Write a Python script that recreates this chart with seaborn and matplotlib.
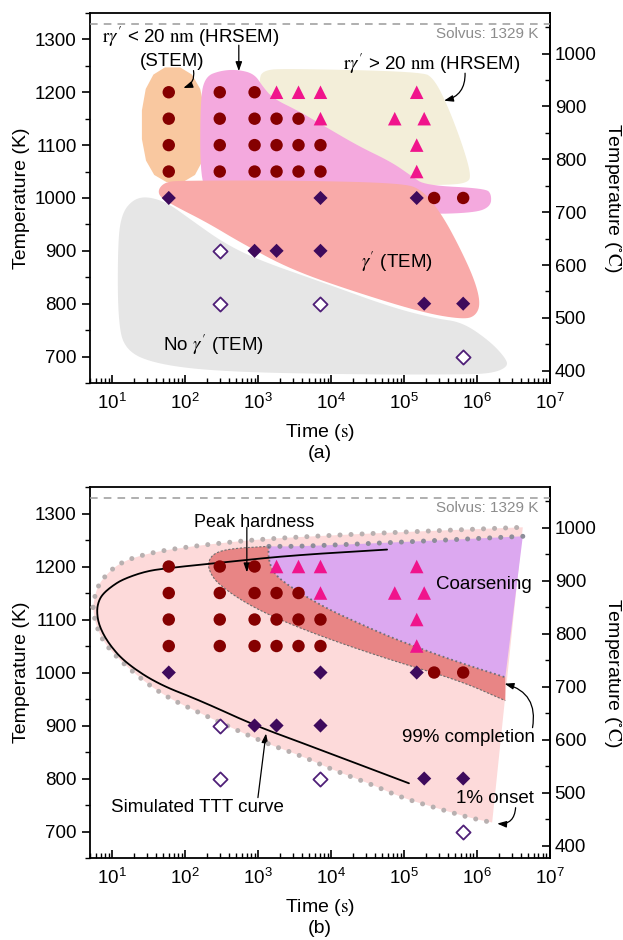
import numpy as np
import matplotlib
matplotlib.use("Agg")
import matplotlib.pyplot as plt
import seaborn as sns
import pandas as pd
from matplotlib.ticker import FixedLocator, LogLocator, MultipleLocator, NullFormatter

# ---- measured points: ageing time (s) and temperature (K) ----
circle_t = [60, 300, 900,
            60, 300, 900, 1800, 3600,
            60, 300, 900, 1800, 3600, 7200,
            60, 300, 900, 1800, 3600, 7200,
            2.6e5, 6.5e5]
circle_T = [1200, 1200, 1200,
            1150, 1150, 1150, 1150, 1150,
            1100, 1100, 1100, 1100, 1100, 1100,
            1050, 1050, 1050, 1050, 1050, 1050,
            1000, 1000]
tri_t = [1800, 3600, 7200, 1.5e5, 7200, 7.5e4, 1.9e5, 1.5e5, 1.5e5]
tri_T = [1200, 1200, 1200, 1200, 1150, 1150, 1150, 1100, 1050]
dia_t = [60, 7200, 1.5e5, 900, 1800, 7200, 1.9e5, 6.5e5]
dia_T = [1000, 1000, 1000, 900, 900, 900, 800, 800]
open_t = [300, 300, 7200, 6.5e5]
open_T = [900, 800, 800, 700]
solvus = 1329

x_ticks = [1e1, 1e2, 1e3, 1e4, 1e5, 1e6, 1e7]
k_ticks = [700, 800, 900, 1000, 1100, 1200, 1300]
c_ticks = [400, 500, 600, 700, 800, 900, 1000]

# ---- region outlines: (log10 time, K) ----
stem_zone = [(1.41, 1030), (1.41, 1247), (2.25, 1247), (2.31, 1030)]
small_zone = [(2.21, 1030), (2.21, 1188), (2.28, 1230), (2.49, 1241), (2.72, 1243),
              (2.95, 1235), (3.07, 1210), (3.21, 1188), (3.55, 1165), (3.91, 1136),
              (4.38, 1098), (4.83, 1068), (5.11, 1041), (5.29, 1024), (6.12, 1018),
              (6.2, 1007), (6.19, 984), (5.98, 972), (5.25, 969), (3.59, 988), (2.35, 1012)]
large_zone = [(3.01, 1226), (3.08, 1241), (3.32, 1245), (5.25, 1239), (5.41, 1226),
              (5.59, 1178), (5.8, 1102), (5.92, 1045), (5.88, 1028), (5.52, 1024),
              (4.28, 1024), (3.01, 1092)]
tem_zone = [(1.63, 1016), (1.73, 1030), (1.94, 1033), (3.59, 1033), (4.97, 1028),
            (5.25, 1016), (5.52, 969), (5.76, 908), (5.97, 845), (6.05, 801),
            (5.99, 778), (5.83, 770), (5.29, 782), (4.38, 820), (3.46, 864),
            (2.77, 915), (2.31, 953), (1.87, 984), (1.66, 1001)]
none_zone = [(1.14, 972), (1.29, 997), (1.48, 1003), (1.76, 991), (2.08, 959),
             (2.53, 915), (3.0, 883), (3.91, 839), (4.83, 793), (5.43, 772),
             (5.8, 765), (6.17, 730), (6.39, 698), (6.43, 681), (6.21, 668),
             (5.76, 666), (4.38, 666), (2.53, 671), (1.62, 685), (1.18, 711),
             (1.08, 769), (1.08, 921)]

onset_top = [(0.74, 1123), (0.78, 1155), (0.88, 1179), (1.11, 1208), (1.52, 1226),
             (2.08, 1238), (2.9, 1250), (3.59, 1256), (4.97, 1265), (6.63, 1274)]
onset_bot = [(0.74, 1123), (0.77, 1094), (0.88, 1057), (1.18, 1013), (1.66, 960),
             (2.21, 923), (3.08, 868), (3.59, 843), (4.05, 815), (4.52, 791),
             (4.97, 764), (5.43, 745), (5.9, 726), (6.21, 717)]
coarse_top = [(3.15, 1238), (3.59, 1238), (4.97, 1246), (6.63, 1257)]
peak_upper = [(3.15, 1238), (3.14, 1217), (3.21, 1187), (3.46, 1160), (3.91, 1123),
              (4.38, 1093), (4.83, 1066), (5.29, 1042), (5.76, 1019), (6.39, 991)]
peak_lower = [(3.15, 1238), (2.63, 1234), (2.39, 1225), (2.31, 1206), (2.35, 1187),
              (2.45, 1168), (2.77, 1136), (3.22, 1104), (3.91, 1066), (4.83, 1023),
              (5.76, 985), (6.39, 947)]
ttt_curve = [(4.77, 1232), (3.46, 1221), (2.53, 1208), (1.76, 1197), (1.46, 1191),
             (1.15, 1176), (1.0, 1163), (0.88, 1149), (0.82, 1136), (0.79, 1117),
             (0.82, 1089), (0.95, 1055), (1.18, 1019), (1.62, 979), (2.21, 947),
             (2.96, 900), (3.59, 868), (5.07, 791)]


def chaikin(pts, n=3, closed=True):
    p = np.asarray(pts, float)
    for _ in range(n):
        a = p if closed else p[:-1]
        b = np.roll(p, -1, axis=0) if closed else p[1:]
        q = np.empty((2 * len(a), 2))
        q[0::2] = 0.75 * a + 0.25 * b
        q[1::2] = 0.25 * a + 0.75 * b
        p = q if closed else np.vstack([p[0], q, p[-1]])
    return p


def blob(ax, pts, color, z, n=3):
    p = chaikin(pts, n)
    ax.fill(10 ** p[:, 0], p[:, 1], color=color, lw=0, zorder=z)


def curve(pts, n=3):
    p = chaikin(pts, n, closed=False)
    return 10 ** p[:, 0], p[:, 1]


sns.set_theme(style="ticks")
plt.rcParams["font.family"] = ["Liberation Sans", "DejaVu Sans"]
plt.rcParams["mathtext.fontset"] = "stix"
plt.rcParams["axes.edgecolor"] = "black"
plt.rcParams["axes.linewidth"] = 1.3
plt.rcParams["text.color"] = "black"
plt.rcParams["axes.labelcolor"] = "black"
plt.rcParams["xtick.color"] = "black"
plt.rcParams["ytick.color"] = "black"

c_circle = "#850000"
c_tri = "#f0148c"
c_dia = "#3e0a5c"
c_open = "#4f1f78"

fig = plt.figure(figsize=(6.23, 9.40), dpi=100)
ax_a = fig.add_axes([0.1445, 0.5926, 0.738, 0.3936])
ax_b = fig.add_axes([0.1445, 0.0872, 0.738, 0.3947])


def markers(ax):
    sns.scatterplot(x=circle_t, y=circle_T, ax=ax, marker="o", s=80,
                    color=c_circle, edgecolor="none", zorder=10)
    sns.scatterplot(x=tri_t, y=tri_T, ax=ax, marker="^", s=95,
                    color=c_tri, edgecolor="none", zorder=10)
    sns.scatterplot(x=dia_t, y=dia_T, ax=ax, marker="D", s=52,
                    color=c_dia, edgecolor="none", zorder=10)
    sns.scatterplot(x=open_t, y=open_T, ax=ax, marker="D", s=52,
                    facecolor="white", edgecolor=c_open, linewidth=1.3, zorder=10)


def frame(ax, tag):
    ax.set_xscale("log")
    ax.set_xlim(5, 1e7)
    ax.set_ylim(650, 1350)
    ax.xaxis.set_major_locator(FixedLocator(x_ticks))
    ax.xaxis.set_minor_locator(LogLocator(base=10, subs=np.arange(2, 10), numticks=20))
    ax.xaxis.set_minor_formatter(NullFormatter())
    ax.yaxis.set_major_locator(FixedLocator(k_ticks))
    ax.yaxis.set_minor_locator(MultipleLocator(50))
    ax.tick_params(axis="x", which="both", direction="in", labelsize=13.5, pad=7)
    ax.tick_params(axis="x", which="major", length=6, width=1.2)
    ax.tick_params(axis="x", which="minor", length=3.5, width=1.0)
    ax.tick_params(axis="y", which="major", direction="out", length=6, width=1.2, labelsize=13.5)
    ax.tick_params(axis="y", which="minor", direction="out", length=3.5, width=1.0)
    ax.set_xlabel("Time ($\\mathrm{s}$)", fontsize=14)
    ax.xaxis.set_label_coords(0.5, -0.105)
    ax.set_ylabel("Temperature (K)", fontsize=14)
    ax.yaxis.set_label_coords(-0.13, 0.5)
    sec = ax.secondary_yaxis("right", functions=(lambda k: k - 273.15, lambda c: c + 273.15))
    sec.yaxis.set_major_locator(FixedLocator(c_ticks))
    sec.yaxis.set_minor_locator(FixedLocator([450, 550, 650, 750, 850, 950, 1050]))
    sec.tick_params(which="major", direction="in", length=6, width=1.2, labelsize=13.5)
    sec.tick_params(which="minor", direction="in", length=3.5, width=1.0)
    sec.set_ylabel("Temperature ($^{\\circ}\\mathrm{C}$)", fontsize=14, rotation=270, labelpad=19)
    ax.axhline(solvus, color="#9a9a9a", lw=1.1, ls=(0, (5, 4)), zorder=3)
    ax.text(6.9e6, 1311, "Solvus: 1329 K", color="#8c8c8c", fontsize=11,
            ha="right", va="center")
    ax.text(0.5, -0.19, tag, transform=ax.transAxes, ha="center", va="center", fontsize=14)


arrow = dict(arrowstyle="-|>,head_length=0.45,head_width=0.16", color="black", lw=0.9,
             shrinkA=0, shrinkB=0)

# ---------------- panel (a) ----------------
blob(ax_a, large_zone, "#f3eed9", 1)
blob(ax_a, stem_zone, "#f9c8a0", 1, n=2)
blob(ax_a, small_zone, "#f4a9de", 2)
blob(ax_a, none_zone, "#e6e6e6", 2)
blob(ax_a, tem_zone, "#f9aaa9", 3)
markers(ax_a)
frame(ax_a, "(a)")

ax_a.text(7.4, 1304, "$\\mathrm{r}\\gamma'$ < 20 $\\mathrm{nm}$ (HRSEM)", fontsize=13.5,
          ha="left", va="center")
ax_a.text(66, 1258, "(STEM)", fontsize=13.5, ha="center", va="center")
ax_a.annotate("", xy=(95, 1208), xytext=(131, 1241),
              arrowprops=dict(arrow, connectionstyle="arc3,rad=-0.4"))
ax_a.annotate("", xy=(547, 1240), xytext=(547, 1289), arrowprops=arrow)
ax_a.text(2.43e5, 1254, "$\\mathrm{r}\\gamma'$ > 20 $\\mathrm{nm}$ (HRSEM)", fontsize=13.5,
          ha="center", va="center")
ax_a.annotate("", xy=(3.55e5, 1184), xytext=(6.9e5, 1236),
              arrowprops=dict(arrow, connectionstyle="arc3,rad=-0.4"))
ax_a.text(7.9e4, 879, "$\\gamma'$ (TEM)", fontsize=13.5, ha="center", va="center")
ax_a.text(245, 723, "No $\\gamma'$ (TEM)", fontsize=13.5, ha="center", va="center")

# ---------------- panel (b) ----------------
top_x, top_y = curve(onset_top)
bot_x, bot_y = curve(onset_bot)
ax_b.fill(np.r_[top_x, bot_x[::-1]], np.r_[top_y, bot_y[::-1]], color="#fddada", lw=0, zorder=1)

ct_x, ct_y = curve(coarse_top, 2)
pu_x, pu_y = curve(peak_upper)
pl_x, pl_y = curve(peak_lower)
ax_b.fill(np.r_[ct_x, pu_x[::-1]], np.r_[ct_y, pu_y[::-1]], color="#dca8f0", lw=0, zorder=2)
ax_b.fill(np.r_[pu_x, pl_x[::-1]], np.r_[pu_y, pl_y[::-1]], color="#e88585", lw=0, zorder=3)

dots = dict(ls=(0, (0.01, 2.2)), lw=3.6, dash_capstyle="round", zorder=4)
ax_b.plot(top_x, top_y, color="#b8b0b0", **dots)
ax_b.plot(bot_x, bot_y, color="#b8b0b0", **dots)
ax_b.plot(ct_x, ct_y, color="#8d8d99", **dots)
ax_b.plot(pu_x, pu_y, color="#6e6e7a", ls=(0, (1, 1.5)), lw=1.3, zorder=4)
ax_b.plot(pl_x[3:], pl_y[3:], color="#6e6e6e", ls=(0, (2, 1.5)), lw=0.8, zorder=4)

tx, ty = curve(ttt_curve)
sns.lineplot(x=tx, y=ty, ax=ax_b, sort=False, estimator=None, color="black", lw=1.3, zorder=5)

markers(ax_b)
frame(ax_b, "(b)")

ax_b.text(880, 1283, "Peak hardness", fontsize=13, ha="center", va="center")
ax_b.annotate("", xy=(705, 1189), xytext=(705, 1274), arrowprops=arrow)
ax_b.text(1.25e6, 1166, "Coarsening", fontsize=13.5, ha="center", va="center")
ax_b.text(7.6e5, 877, "99% completion", fontsize=13.5, ha="center", va="center")
ax_b.annotate("", xy=(2.4e6, 979), xytext=(5.8e6, 896),
              arrowprops=dict(arrow, connectionstyle="arc3,rad=0.45"))
ax_b.text(1.75e6, 762, "1% onset", fontsize=13.5, ha="center", va="center")
ax_b.annotate("", xy=(1.9e6, 715), xytext=(3.4e6, 745),
              arrowprops=dict(arrow, connectionstyle="arc3,rad=-0.5"))
ax_b.text(150, 745, "Simulated TTT curve", fontsize=13.5, ha="center", va="center")
ax_b.annotate("", xy=(1290, 885), xytext=(1000, 764), arrowprops=arrow)

fig.savefig("out.png", dpi=100, facecolor="white")
